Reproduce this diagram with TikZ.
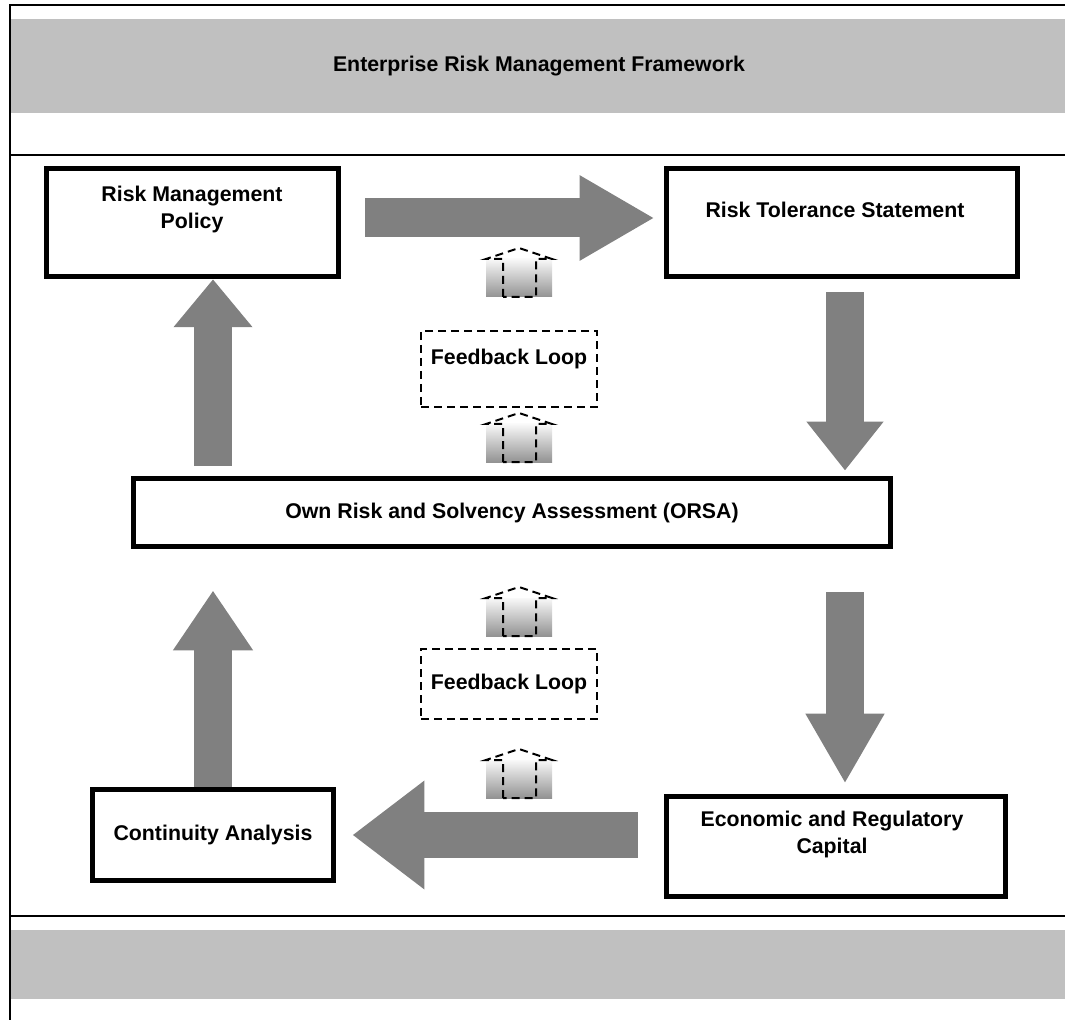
\documentclass[tikz,border=0pt]{standalone}
\usepackage{fontspec}
\setmainfont{Liberation Sans}
\usetikzlibrary{arrows.meta}

\definecolor{flowgray}{HTML}{808080}
\definecolor{bandgray}{HTML}{C0C0C0}

\begin{document}
\begin{tikzpicture}[x=0.5pt,y=-0.5pt,
    every node/.style={font=\bfseries\fontsize{10.65}{13.5}\selectfont},
    stage/.style={draw,line width=2.5pt,inner sep=0pt},
    feedback/.style={draw,line width=1pt,dash pattern=on 4pt off 2.5pt,minimum width=88pt,inner sep=0pt},
    flow/.style={draw=flowgray,line width=19pt},
    frame/.style={line width=1pt}]
    \useasboundingbox (0,0) rectangle (1065,1021);

    % page frame and bands
    \fill[bandgray] (10,19) rectangle (1065,113);
    \fill[bandgray] (10,930) rectangle (1065,999);
    \draw[frame] (1065,5) -- (10,5) -- (10,1020);
    \draw[frame] (10,155) -- (1065,155);
    \draw[frame] (10,916) -- (1065,916);
    \node (title) at (539,66) {Enterprise Risk Management Framework};

    % stages
    \node[stage,minimum width=146.25pt,minimum height=54.25pt] (rmp) at (192.5,222.5) {};
    \node[align=center] (rmp-text) at (192,209.5) {Risk Management\\Policy};
    \node[stage,minimum width=175.75pt,minimum height=54.25pt] (rts) at (842,222.5) {};
    \node (rts-text) at (835,210) {Risk Tolerance Statement};
    \node[stage,minimum width=378.75pt,minimum height=34.25pt] (orsa) at (512,512.5) {Own Risk and Solvency Assessment (ORSA)};
    \node[stage,minimum width=169.75pt,minimum height=50.25pt] (erc) at (836,846.5) {};
    \node[align=center] (erc-text) at (832,834.5) {Economic and Regulatory\\Capital};
    \node[stage,minimum width=120.75pt,minimum height=45.75pt] (cont) at (213,835) {Continuity Analysis};

    % feedback loops
    \node[feedback,minimum height=38pt] (fb1) at (509,369) {};
    \node (fb1-text) at (509,359) {Feedback Loop};
    \node[feedback,minimum height=35pt] (fb2) at (509,684) {Feedback Loop};

    % big arrows
    \draw[flow,line width=19.5pt,-{Triangle[width=40pt,length=37.5pt]}] ([xshift=12.1pt,yshift=2.25pt]rmp.east) -- ([xshift=-4.6pt,yshift=2.25pt]rts.west);
    \draw[flow,-{Triangle[width=37pt,length=24.5pt]}] ([xshift=1.5pt,yshift=-6.6pt]rts.south) -- ([xshift=1.5pt,yshift=2.6pt]rts.south |- orsa.north);
    \draw[flow,-{Triangle[width=37pt,length=35pt]}] ([xshift=1.5pt,yshift=-21.6pt]rts.south |- orsa.south) -- ([xshift=1.5pt,yshift=5.1pt]rts.south |- erc.north);
    \draw[flow,-{Triangle[width=38pt,length=24pt]}] ([yshift=5.1pt]cont.north |- orsa.north) -- (cont.north |- rmp.south);
    \draw[flow,-{Triangle[width=38pt,length=30pt]}] (cont.north) -- ([yshift=-20.6pt]cont.north |- orsa.south);
    \draw[flow,line width=23pt,-{Triangle[width=52pt,length=36pt]}] ([xshift=-13.1pt]erc.west |- cont.east) -- ([xshift=8.1pt]cont.east);

    % small dashed arrows
    \foreach \ty in {248,413,587,749}{
        \shade[top color=gray!5,bottom color=gray!85] (486,\ty+11) rectangle (552,\ty+49);
        \draw[line width=1pt,dash pattern=on 4pt off 2.5pt] (503,\ty+49) -- (503,\ty+11) -- (486,\ty+11) -- (519,\ty) -- (552,\ty+11) -- (536,\ty+11) -- (536,\ty+49) -- cycle;
    }
\end{tikzpicture}
\end{document}
